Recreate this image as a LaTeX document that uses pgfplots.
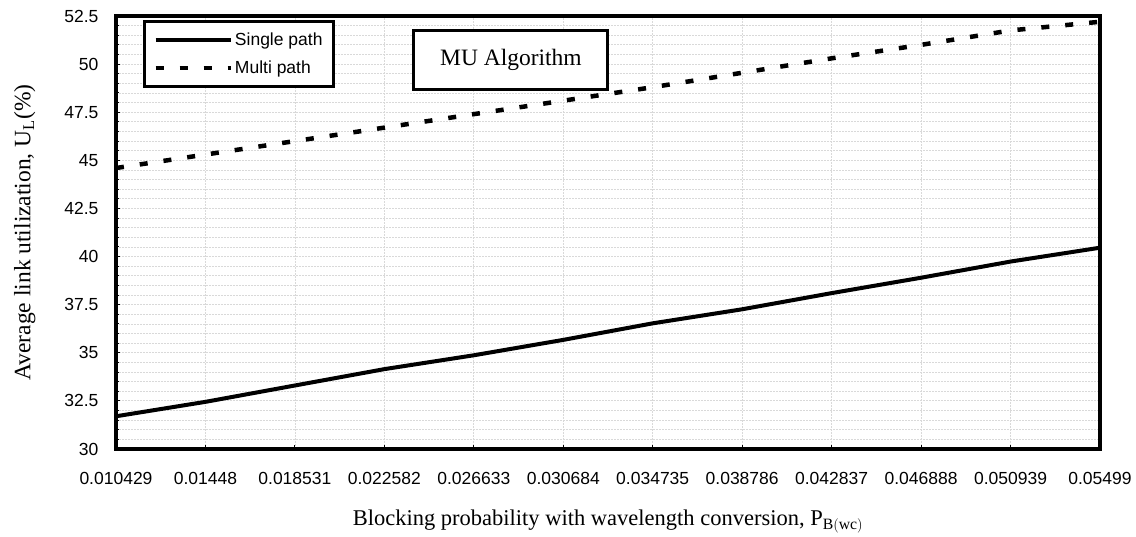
\documentclass[border=0pt]{standalone}
\usepackage{fontspec}
\setmainfont{Liberation Serif}
\newfontfamily\arial{Liberation Sans}
\usepackage{pgfplots}
\pgfplotsset{compat=1.18}

\pgfplotstableread{
x single multi
0  31.70 44.60
1  32.45 45.30
2  33.30 46.00
3  34.15 46.70
4  34.87 47.40
5  35.67 48.10
6  36.53 48.80
7  37.26 49.55
8  38.10 50.30
9  38.90 51.00
10 39.74 51.75
11 40.46 52.20
}\mudata

\begin{document}
\begin{tikzpicture}
% page size = reference size, 1px = 1pt
\path[use as bounding box] (-116pt,-87pt) rectangle (1020pt,449pt);
\begin{axis}[
    scale only axis,
    width=984pt, height=433pt,
    xmin=0, xmax=11,
    ymin=30, ymax=52.5,
    xtick={0,...,11},
    xticklabels={0.010429,0.01448,0.018531,0.022582,0.026633,0.030684,0.034735,0.038786,0.042837,0.046888,0.050939,0.05499},
    ytick={30,32.5,...,52.5},
    minor y tick num=4,
    /pgf/number format/assume math mode=true,
    /pgf/number format/fixed,
    ticklabel style={font=\arial\fontsize{17.5}{20}\selectfont},
    yticklabel style={xshift=-14pt},
    xticklabel style={yshift=-20pt},
    tick align=inside,
    major tick length=4pt,
    minor tick length=3pt,
    tick style={black, line width=1pt},
    xtick pos=bottom, ytick pos=left,
    axis line style={line width=4.5pt},
    xmajorgrids, ymajorgrids, yminorgrids,
    major grid style={gray!30, line width=0.8pt, dash pattern=on 2pt off 1pt},
    minor grid style={gray!30, line width=0.8pt, dash pattern=on 2pt off 1pt},
    xlabel={Blocking probability with wavelength conversion, P$_{\mathrm{B(wc)}}$},
    ylabel={Average link utilization, U$_{\mathrm{L}}$(\%)},
    xlabel style={font=\fontsize{22.5}{26}\selectfont, yshift=-18pt},
    ylabel style={font=\fontsize{23.5}{27}\selectfont, yshift=22pt},
    legend style={
        at={(0.0274,0.99)}, anchor=north west,
        draw=black, line width=3pt,
        font=\arial\fontsize{17.5}{21}\selectfont,
        row sep=10pt, inner xsep=9pt, inner ysep=9pt,
        cells={anchor=west},
    },
    legend image code/.code={\draw[#1] (0pt,0pt) -- (75pt,0pt);},
    clip=false,
]
\addplot[black, line width=4pt] table[x=x, y=single] {\mudata};
\addlegendentry{Single path}
\addplot[black, line width=4.5pt, dash pattern=on 8pt off 16pt] table[x=x, y=multi] {\mudata};
\addlegendentry{Multi path}
\node[draw=black, line width=3pt, minimum width=194pt, minimum height=59pt,
      font=\fontsize{23.5}{27}\selectfont, fill=white]
    at (rel axis cs:0.4014,0.8995) {MU Algorithm};
\end{axis}
\end{tikzpicture}
\end{document}
